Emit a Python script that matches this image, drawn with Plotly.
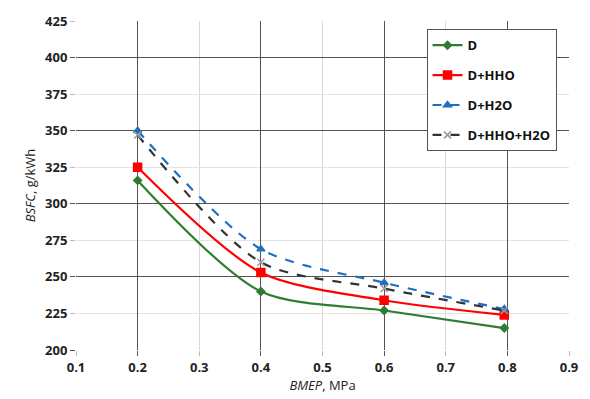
import plotly.graph_objects as go

bmep = [0.2, 0.4, 0.6, 0.795]
bsfc_d = [316, 240, 227, 215]
bsfc_d_hho = [325, 253, 234, 224]
bsfc_d_h2o = [350, 269, 246, 228]
bsfc_d_hho_h2o = [347, 260, 242, 227]

series = [
    ("D", bsfc_d, "#2E7D32", "solid", "diamond", 6, "#2E7D32"),
    ("D+HHO", bsfc_d_hho, "#FF0000", "solid", "square", 8, "#FF0000"),
    ("D+H2O", bsfc_d_h2o, "#1F6FC0", "dash", "triangle-up", 7, "#1F6FC0"),
    ("D+HHO+H2O", bsfc_d_hho_h2o, "#333333", "dash", "x-thin", 7, "#999999"),
]

fig = go.Figure()
for i, (name, vals, col, dash, sym, sz, mcol) in enumerate(series):
    fig.add_trace(go.Scatter(
        x=bmep, y=vals, name=name, mode="lines+markers",
        line=dict(color=col, width=2.2, dash=dash, shape="spline", smoothing=0.8),
        marker=dict(symbol=sym, size=sz, color=mcol, line=dict(color=mcol, width=1.5)),
        legendgroup=name,
    ))

font_family = "Open Sans, Liberation Sans, sans-serif"
fig.update_layout(
    width=590, height=399,
    margin=dict(l=76, r=19, t=18, b=47),
    paper_bgcolor="white", plot_bgcolor="white",
    font=dict(family=font_family, size=13, color="#222222"),
    showlegend=True,
    legend=dict(x=0.711, y=0.975, xanchor="left", yanchor="top",
                bordercolor="#555555", borderwidth=1, bgcolor="white",
                font=dict(size=13, color="#111111", family=font_family, weight="bold"),
                tracegroupgap=10, traceorder="grouped", itemwidth=30),
    xaxis=dict(range=[0.1, 0.9], dtick=0.1, tick0=0.1, tickformat=".1f",
               showgrid=True, gridcolor="#D9D9D9", gridwidth=1,
               ticks="outside", ticklen=5, tickcolor="#BBBBBB",
               zeroline=False, showline=False,
               tickfont=dict(size=13, weight="bold", color="#222222"),
               title=dict(text="<i>BMEP</i>, MPa", font=dict(size=13), standoff=2)),
    yaxis=dict(range=[200, 425], dtick=25, tick0=200,
               showgrid=True, gridcolor="#E3E3E3", gridwidth=1,
               ticks="outside", ticklen=5, tickcolor="#BBBBBB",
               zeroline=False, showline=False,
               tickfont=dict(size=13, weight="bold", color="#222222"),
               title=dict(text="<i>BSFC</i>, g/kWh", font=dict(size=13), standoff=6)),
    xaxis2=dict(range=[0.1, 0.9], overlaying="x", tickvals=[0.2, 0.4, 0.6, 0.8],
                showticklabels=False, showgrid=True, gridcolor="#555555", gridwidth=1,
                ticks="outside", ticklen=5, tickcolor="#555555", side="bottom",
                zeroline=False, showline=False),
    yaxis2=dict(range=[200, 425], overlaying="y", tickvals=[200, 250, 300, 350, 400],
                showticklabels=False, showgrid=True, gridcolor="#555555", gridwidth=1,
                ticks="outside", ticklen=5, tickcolor="#555555", side="left",
                zeroline=False, showline=False),
)
fig.add_trace(go.Scatter(x=[None], y=[None], xaxis="x2", yaxis="y2", showlegend=False, hoverinfo="skip"))

fig.write_html("out.html")
